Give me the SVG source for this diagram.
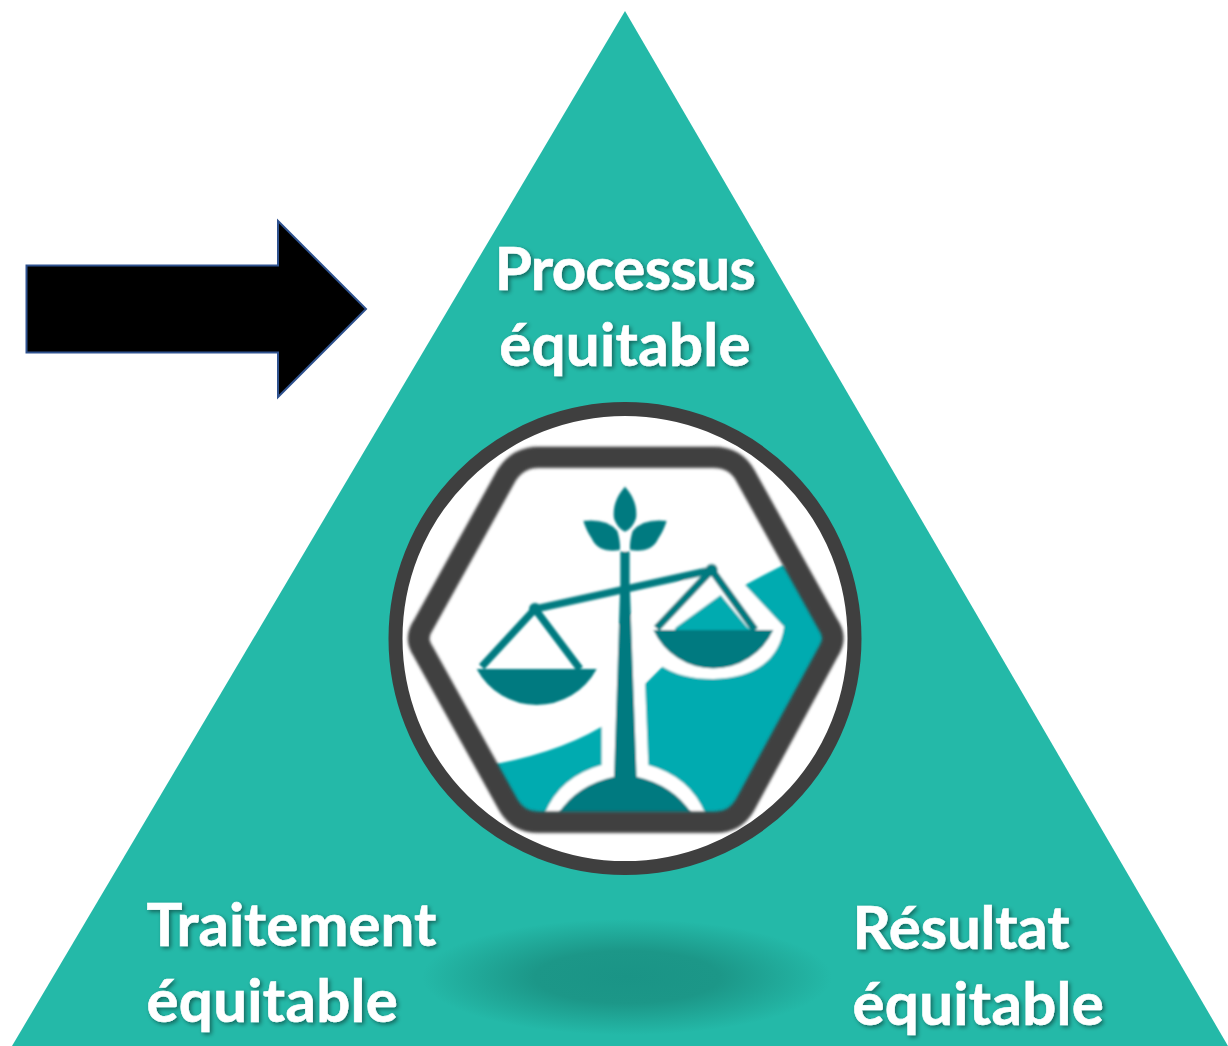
<svg xmlns="http://www.w3.org/2000/svg" width="1228" height="1046" viewBox="0 0 1228 1046">
<style>
.lbl{font-family:"Lato","Open Sans","Liberation Sans",sans-serif;font-weight:700;font-size:60px;fill:#fff;stroke:#fff;stroke-width:.6px;filter:url(#ts)}
.dk{fill:#007a80}
.w{fill:#fff}
</style>
<defs>
<filter id="ts" x="-10%" y="-20%" width="120%" height="140%"><feDropShadow dx="2" dy="2" stdDeviation="2" flood-color="#000" flood-opacity=".45"/></filter>
<filter id="b1"><feGaussianBlur stdDeviation="2.500"/></filter>
<filter id="b2"><feGaussianBlur stdDeviation="5"/></filter>
<radialGradient id="sh"><stop offset="0" stop-color="#1a9486"/><stop offset=".45" stop-color="#1c9788"/><stop offset="1" stop-color="#24b9a8"/></radialGradient>
<clipPath id="hexc"><path d="M380,240Q415,187 475,187L1000,187Q1065,187 1095,240L1345,690Q1372,730 1345,770L1095,1230Q1065,1282 1005,1282L475,1282Q415,1282 385,1230L130,770Q102,730 130,690Z"/></clipPath>
</defs>
<rect width="1228" height="1046" fill="#fff"/>
<g id="triangle"><path d="M625,11L1228,1046H12Z" fill="#24b9a8"/></g>
<g id="shadow"><ellipse cx="627" cy="977" rx="205" ry="58" fill="url(#sh)"/></g>
<g id="arrow"><path d="M26.500,265.500H278V221L366,309L278,397V352.500H26.500Z" fill="#000" stroke="#2f528f" stroke-width="2"/></g>
<g id="emblem">
<circle cx="625" cy="638.500" r="229.500" fill="#fff" stroke="#3f3f3f" stroke-width="14"/>
<g transform="translate(380 395) scale(.33333)">
<g clip-path="url(#hexc)" filter="url(#b1)">
<path d="M300,1115Q520,1080 665,995L1095,570Q1150,540 1210,510L1450,730L1100,1320H300Z" fill="#00abb0"/>
<path class="w" d="M665,985V1110Q540,1145 495,1255H975Q930,1145 805,1110L795,860L840,810Q900,852 1000,852Q1190,845 1212,695L1095,570L995,500L700,700Z"/>
<path d="M1022,600L888,697L880,712H1120L1102,697Z" fill="#00abb0"/>
<path class="dk" d="M290,822H650A204,204 0 0 1 290,822Z"/>
<path class="dk" d="M820,705H1180A198,198 0 0 1 820,705Z"/>
<path d="M465,642L305,815M465,642L600,822M995,525L830,700M995,525L1125,705" stroke="#007a80" stroke-width="22" fill="none"/>
<path class="dk" d="M720,590H750L770,1145Q880,1170 935,1255H535Q590,1170 702,1145Z"/>
<path d="M735,470V600" stroke="#007a80" stroke-width="28"/>
<path d="M735,425V470" stroke="#fff" stroke-width="6" opacity=".7"/>
<path d="M465,642L995,525" stroke="#007a80" stroke-width="22" fill="none"/>
<circle class="dk" cx="465" cy="642" r="18"/><circle class="dk" cx="995" cy="525" r="18"/>
<path class="dk" d="M735,275Q775,320 768,370Q758,400 735,410Q712,400 702,370Q695,320 735,275Z"/>
<path class="dk" d="M610,378Q680,370 712,408Q722,440 720,465Q655,475 635,430Q620,410 610,378Z"/>
<path class="dk" d="M860,378Q790,370 758,408Q748,440 750,465Q815,475 835,430Q850,410 860,378Z"/>
</g>
<path filter="url(#b2)" d="M380,240Q415,187 475,187L1000,187Q1065,187 1095,240L1345,690Q1372,730 1345,770L1095,1230Q1065,1282 1005,1282L475,1282Q415,1282 385,1230L130,770Q102,730 130,690Z" fill="none" stroke="#3f3f3f" stroke-width="64"/>
</g>
</g>
<g id="label-processus"><text class="lbl" x="625" y="289.500" text-anchor="middle" letter-spacing="-.6">Processus</text><text class="lbl" x="625" y="365.500" text-anchor="middle" letter-spacing=".3">équitable</text></g>
<g id="label-traitement"><text class="lbl" x="146.500" y="945.500">Traitement</text><text class="lbl" x="146.500" y="1021.500" letter-spacing=".3">équitable</text></g>
<g id="label-resultat"><text class="lbl" x="852.500" y="948.500" letter-spacing="-.2">Résultat</text><text class="lbl" x="852.500" y="1024.500" letter-spacing=".3">équitable</text></g>
<g id="connectors"/>
</svg>
